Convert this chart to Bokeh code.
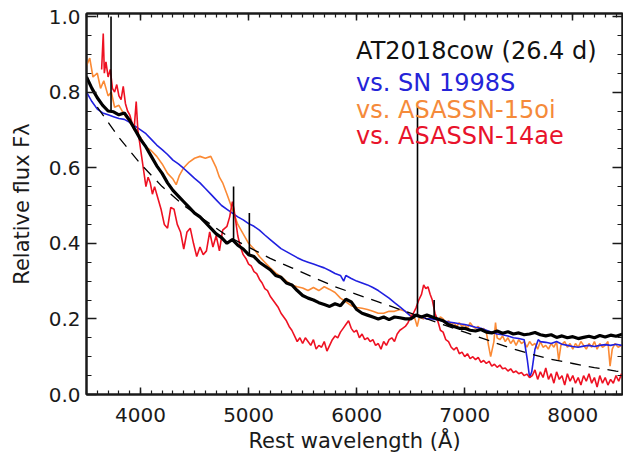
import numpy as np
from bokeh.plotting import figure
from bokeh.models import (Range1d, LinearAxis, SingleIntervalTicker, PrintfTickFormatter,
                          CustomJSTickFormatter, ColumnDataSource)
from bokeh.core.properties import value
from bokeh.embed import file_html
from bokeh.resources import INLINE

# ---------------- data ----------------
# AT2018cow (26.4 d), 50 A grid
cow_wave = list(range(3500, 8501, 50))
cow_flux = [0.84, 0.81, 0.785, 0.765, 0.75, 0.748, 0.74, 0.745, 0.725, 0.70,
            0.675, 0.655, 0.63, 0.605, 0.585, 0.56, 0.54, 0.525, 0.51, 0.495,
            0.48, 0.47, 0.455, 0.44, 0.425, 0.415, 0.40, 0.41, 0.395, 0.385,
            0.37, 0.365, 0.35, 0.34, 0.33, 0.315, 0.31, 0.295, 0.29, 0.275,
            0.262, 0.255, 0.25, 0.243, 0.238, 0.233, 0.24, 0.235, 0.252, 0.245,
            0.225, 0.215, 0.21, 0.205, 0.20, 0.205, 0.198, 0.205, 0.203, 0.20,
            0.20, 0.21, 0.205, 0.21, 0.205, 0.20, 0.195, 0.185, 0.18, 0.175,
            0.175, 0.17, 0.168, 0.172, 0.165, 0.163, 0.168, 0.162, 0.166, 0.16,
            0.163, 0.158, 0.16, 0.164, 0.158, 0.155, 0.158, 0.151, 0.155, 0.15,
            0.153, 0.148, 0.151, 0.154, 0.15, 0.156, 0.152, 0.157, 0.154, 0.159,
            0.155]
# narrow emission lines of AT2018cow
cow_line_wave = [3727, 4861, 5007, 6563, 6717]
cow_line_peak = [1.0, 0.55, 0.48, 0.76, 0.25]

# blackbody fit (dashed)
bb_wave = [3600, 3800, 4000, 4200, 4400, 4600, 4800, 5000, 5200, 5400, 5600, 5800,
           6000, 6200, 6400, 6600, 6800, 7000, 7200, 7400, 7600, 7800, 8000, 8200,
           8400, 8500]
bb_flux = [0.76, 0.68, 0.61, 0.55, 0.50, 0.46, 0.42, 0.39, 0.36, 0.335, 0.31, 0.285,
           0.265, 0.245, 0.225, 0.205, 0.185, 0.165, 0.145, 0.125, 0.108, 0.093, 0.082,
           0.071, 0.062, 0.058]

# SN 1998S
s98_wave = [3500, 3550, 3600, 3650, 3700, 3750, 3800, 3850, 3900, 3950, 4000, 4050,
            4100, 4150, 4200, 4250, 4300, 4350, 4400, 4450, 4500, 4550, 4600, 4650,
            4700, 4750, 4800, 4850, 4900, 4950, 5000, 5050, 5100, 5150, 5200, 5250,
            5300, 5350, 5400, 5450, 5500, 5550, 5600, 5650, 5700, 5750, 5800, 5850,
            5880, 5900, 5950, 6000, 6050, 6100, 6150, 6200, 6250, 6300, 6350, 6400,
            6450, 6500, 6550, 6600, 6650, 6700, 6750, 6800, 6850, 6900, 6950, 7000,
            7050, 7100, 7150, 7200, 7250, 7300, 7350, 7400, 7450, 7500, 7550, 7580,
            7600, 7620, 7650, 7680, 7700, 7750, 7800, 7850, 7900, 7950, 8000, 8050,
            8100, 8150, 8200, 8250, 8300, 8350, 8400, 8450, 8500]
s98_flux = [0.80, 0.775, 0.755, 0.745, 0.74, 0.735, 0.73, 0.728, 0.72, 0.71, 0.70, 0.69,
            0.675, 0.66, 0.648, 0.635, 0.62, 0.61, 0.598, 0.585, 0.572, 0.56, 0.545, 0.53,
            0.515, 0.50, 0.49, 0.48, 0.47, 0.462, 0.452, 0.445, 0.435, 0.422, 0.41, 0.398,
            0.386, 0.378, 0.37, 0.362, 0.355, 0.35, 0.345, 0.34, 0.335, 0.328, 0.32, 0.315,
            0.30, 0.315, 0.307, 0.30, 0.295, 0.29, 0.283, 0.275, 0.265, 0.255, 0.243, 0.232,
            0.22, 0.207, 0.21, 0.205, 0.20, 0.20, 0.197, 0.195, 0.192, 0.19, 0.187, 0.185,
            0.182, 0.178, 0.175, 0.17, 0.165, 0.16, 0.158, 0.155, 0.15, 0.148, 0.145, 0.09,
            0.045, 0.06, 0.12, 0.145, 0.14, 0.138, 0.135, 0.14, 0.133, 0.13, 0.127, 0.125,
            0.128, 0.13, 0.127, 0.13, 0.132, 0.13, 0.133, 0.13, 0.132]

# ASASSN-15oi
a15_wave = [3500, 3530, 3560, 3600, 3630, 3660, 3700, 3730, 3760, 3800, 3850, 3900,
            3950, 4000, 4050, 4100, 4150, 4200, 4250, 4300, 4330, 4360, 4400, 4450,
            4500, 4550, 4600, 4650, 4700, 4730, 4760, 4800, 4850, 4900, 4950, 5000,
            5050, 5100, 5150, 5200, 5250, 5300, 5350, 5400, 5450, 5500, 5550, 5600,
            5650, 5700, 5750, 5800, 5850, 5900, 5950, 6000, 6050, 6100, 6150, 6200,
            6250, 6300, 6350, 6400, 6450, 6500, 6540, 6560, 6580, 6620, 6650, 6700,
            6725, 6750, 6775, 6800, 6825, 6850, 6875, 6900, 6925, 6950, 6975, 7000,
            7025, 7050, 7075, 7100, 7125, 7150, 7175, 7200, 7220, 7240, 7255, 7270,
            7285, 7300, 7325, 7350, 7375, 7400, 7425, 7450, 7475, 7500, 7525, 7550,
            7575, 7600, 7625, 7650, 7675, 7700, 7725, 7750, 7775, 7800, 7825, 7850,
            7870, 7890, 7925, 7950, 7975, 8000, 8025, 8050, 8075, 8100, 8125, 8150,
            8175, 8200, 8225, 8250, 8275, 8300, 8325, 8345, 8365, 8390, 8420, 8450,
            8475, 8500]
a15_flux = [0.87, 0.89, 0.84, 0.85, 0.81, 0.83, 0.79, 0.80, 0.76, 0.765, 0.74, 0.72,
            0.70, 0.68, 0.655, 0.645, 0.63, 0.61, 0.585, 0.57, 0.555, 0.58, 0.60, 0.615,
            0.625, 0.63, 0.625, 0.63, 0.60, 0.575, 0.56, 0.53, 0.49, 0.45, 0.425, 0.40,
            0.385, 0.365, 0.35, 0.335, 0.322, 0.312, 0.30, 0.29, 0.285, 0.282, 0.275, 0.283,
            0.275, 0.285, 0.278, 0.27, 0.255, 0.245, 0.235, 0.23, 0.228, 0.225, 0.22, 0.215,
            0.215, 0.22, 0.22, 0.225, 0.22, 0.21, 0.20, 0.18, 0.205, 0.20, 0.21, 0.20,
            0.205, 0.195, 0.205, 0.20, 0.19, 0.195, 0.185, 0.19, 0.18, 0.19, 0.18, 0.185,
            0.175, 0.19, 0.18, 0.175, 0.18, 0.17, 0.175, 0.165, 0.13, 0.10, 0.12, 0.14,
            0.19, 0.15, 0.145, 0.155, 0.14, 0.15, 0.135, 0.145, 0.13, 0.145, 0.135, 0.14,
            0.125, 0.14, 0.13, 0.135, 0.12, 0.14, 0.125, 0.13, 0.12, 0.135, 0.125, 0.14,
            0.09, 0.13, 0.14, 0.125, 0.135, 0.12, 0.135, 0.125, 0.14, 0.13, 0.12, 0.135,
            0.125, 0.14, 0.12, 0.135, 0.125, 0.13, 0.14, 0.075, 0.12, 0.135, 0.125, 0.13,
            0.12, 0.13]

# ASASSN-14ae
a14_wave = [3640, 3655, 3665, 3680, 3700, 3720, 3740, 3760, 3780, 3800, 3820, 3840,
            3860, 3880, 3900, 3920, 3940, 3960, 3975, 3990, 4010, 4030, 4050, 4070,
            4090, 4110, 4130, 4160, 4190, 4220, 4250, 4280, 4310, 4340, 4370, 4400,
            4430, 4460, 4490, 4520, 4550, 4580, 4610, 4640, 4670, 4700, 4730, 4760,
            4800, 4825, 4850, 4865, 4880, 4900, 4925, 4950, 4975, 5000, 5025, 5050,
            5075, 5100, 5125, 5150, 5175, 5200, 5225, 5250, 5275, 5300, 5325, 5350,
            5375, 5400, 5425, 5450, 5475, 5500, 5525, 5550, 5575, 5600, 5625, 5650,
            5675, 5700, 5725, 5750, 5775, 5800, 5825, 5850, 5875, 5900, 5925, 5950,
            5975, 6000, 6025, 6050, 6075, 6100, 6125, 6150, 6175, 6200, 6225, 6250,
            6275, 6300, 6325, 6350, 6375, 6400, 6425, 6450, 6475, 6500, 6525, 6550,
            6575, 6600, 6620, 6640, 6660, 6680, 6700, 6725, 6750, 6775, 6800, 6825,
            6850, 6875, 6900, 6925, 6950, 6975, 7000, 7025, 7050, 7075, 7100, 7125,
            7150, 7175, 7200, 7225, 7250, 7275, 7300, 7325, 7350, 7375, 7400, 7425,
            7450, 7475, 7500, 7525, 7550, 7575, 7600, 7625, 7650, 7675, 7700, 7725,
            7750, 7775, 7800, 7825, 7850, 7875, 7900, 7925, 7950, 7975, 8000, 8025,
            8050, 8075, 8100, 8125, 8150, 8175, 8200, 8225, 8250, 8275, 8300, 8325,
            8350, 8375, 8400, 8425, 8450, 8475, 8500]
a14_flux = [0.86, 0.955, 0.85, 0.88, 0.84, 0.86, 0.81, 0.80, 0.82, 0.79, 0.78, 0.815,
            0.77, 0.75, 0.74, 0.72, 0.70, 0.775, 0.70, 0.67, 0.63, 0.59, 0.55, 0.575,
            0.56, 0.53, 0.55, 0.52, 0.49, 0.45, 0.44, 0.495, 0.49, 0.45, 0.43, 0.385,
            0.43, 0.44, 0.40, 0.365, 0.39, 0.37, 0.38, 0.43, 0.39, 0.42, 0.38, 0.435,
            0.445, 0.47, 0.51, 0.49, 0.46, 0.42, 0.39, 0.37, 0.36, 0.345, 0.34, 0.325,
            0.32, 0.305, 0.295, 0.28, 0.275, 0.26, 0.25, 0.24, 0.23, 0.215, 0.205, 0.195,
            0.18, 0.17, 0.155, 0.14, 0.15, 0.135, 0.15, 0.14, 0.13, 0.145, 0.12, 0.13,
            0.125, 0.14, 0.115, 0.13, 0.145, 0.155, 0.15, 0.165, 0.175, 0.185, 0.195, 0.175,
            0.165, 0.17, 0.15, 0.16, 0.145, 0.15, 0.14, 0.145, 0.13, 0.135, 0.12, 0.14,
            0.13, 0.145, 0.15, 0.14, 0.16, 0.17, 0.175, 0.18, 0.19, 0.205, 0.215, 0.23,
            0.25, 0.265, 0.29, 0.28, 0.285, 0.265, 0.25, 0.215, 0.195, 0.17, 0.165, 0.145,
            0.14, 0.125, 0.118, 0.125, 0.108, 0.112, 0.10, 0.108, 0.095, 0.10, 0.092, 0.098,
            0.085, 0.09, 0.082, 0.088, 0.075, 0.08, 0.072, 0.078, 0.068, 0.07, 0.062, 0.068,
            0.058, 0.062, 0.055, 0.058, 0.05, 0.054, 0.045, 0.05, 0.065, 0.04, 0.06, 0.045,
            0.07, 0.04, 0.055, 0.03, 0.06, 0.04, 0.05, 0.025, 0.055, 0.035, 0.05, 0.03,
            0.045, 0.025, 0.05, 0.035, 0.055, 0.03, 0.045, 0.02, 0.05, 0.03, 0.045, 0.025,
            0.04, 0.03, 0.05, 0.035, 0.055, 0.03, 0.045]

label_texts = ["AT2018cow (26.4 d)", "vs. SN 1998S", "vs. ASASSN-15oi", "vs. ASASSN-14ae"]
label_colors = ["#111111", "#2424d8", "#f58a3a", "#e8132b"]

# ---------------- figure ----------------
FONT = "DejaVu Sans"
p = figure(width=623, height=455, output_backend="svg", toolbar_location=None,
           x_range=Range1d(3500, 8460), y_range=Range1d(0, 1.008),
           min_border_left=86, min_border_right=1, min_border_top=13, min_border_bottom=61,
           x_axis_label="Rest wavelength (Å)", y_axis_label="Relative flux Fλ")
p.grid.visible = False
p.outline_line_color = "#1a1a1a"
p.outline_line_width = 2
p.background_fill_color = "white"
p.border_fill_color = "white"

xt = SingleIntervalTicker(interval=1000, num_minor_ticks=10)
yt = SingleIntervalTicker(interval=0.2, num_minor_ticks=4)

def style_axis(ax, major_in, minor_in):
    ax.major_tick_in = major_in
    ax.major_tick_out = 0
    ax.minor_tick_in = minor_in
    ax.minor_tick_out = 0
    ax.axis_line_width = 2
    ax.axis_line_color = "#1a1a1a"
    ax.major_tick_line_color = "#1a1a1a"
    ax.minor_tick_line_color = "#1a1a1a"
    ax.major_tick_line_width = 1.5
    ax.minor_tick_line_width = 1.2
    ax.major_label_text_font = FONT
    ax.major_label_text_font_size = "20px"
    ax.major_label_text_color = "#1a1a1a"
    ax.axis_label_text_font = FONT
    ax.axis_label_text_font_size = "21px"
    ax.axis_label_text_font_style = "normal"
    ax.axis_label_text_color = "#1a1a1a"

xa = p.xaxis[0]
xa.ticker = xt
style_axis(xa, 7, 4)
xa.major_label_standoff = 13
xa.axis_label_standoff = 4

ya = p.yaxis[0]
ya.ticker = yt
ya.formatter = PrintfTickFormatter(format="%.1f")
style_axis(ya, 10, 5)
ya.major_label_standoff = 6
ya.axis_label_standoff = 12

blank = CustomJSTickFormatter(code="return ''")
top = LinearAxis(ticker=SingleIntervalTicker(interval=1000, num_minor_ticks=10), formatter=blank)
style_axis(top, 7, 4)
top.major_label_standoff = 0
p.add_layout(top, "above")
right = LinearAxis(ticker=SingleIntervalTicker(interval=0.2, num_minor_ticks=4), formatter=blank)
style_axis(right, 10, 5)
right.major_label_standoff = 0
p.add_layout(right, "right")

# spectra
p.line(a15_wave, a15_flux, line_color="#fb8a35", line_width=1.6)
p.line(s98_wave, s98_flux, line_color="#2020e0", line_width=1.6)
p.line(a14_wave, a14_flux, line_color="#ee1122", line_width=1.6)
p.line(cow_wave, cow_flux, line_color="#000000", line_width=3.2)
base = np.interp(cow_line_wave, cow_wave, cow_flux)
p.segment(x0=cow_line_wave, y0=list(base), x1=cow_line_wave, y1=cow_line_peak,
          line_color="#000000", line_width=1.6)
p.line(bb_wave, bb_flux, line_color="#000000", line_width=1.3, line_dash="11 8")

src = ColumnDataSource(dict(x=[5995] * 4, y=[0.91, 0.825, 0.753, 0.683],
                            text=label_texts, color=label_colors))
p.text(x="x", y="y", text="text", text_color="color", source=src,
       text_font=value(FONT), text_font_size="24px", text_baseline="alphabetic",
       text_align="left")

open("out.html", "w").write(file_html(p, INLINE))
